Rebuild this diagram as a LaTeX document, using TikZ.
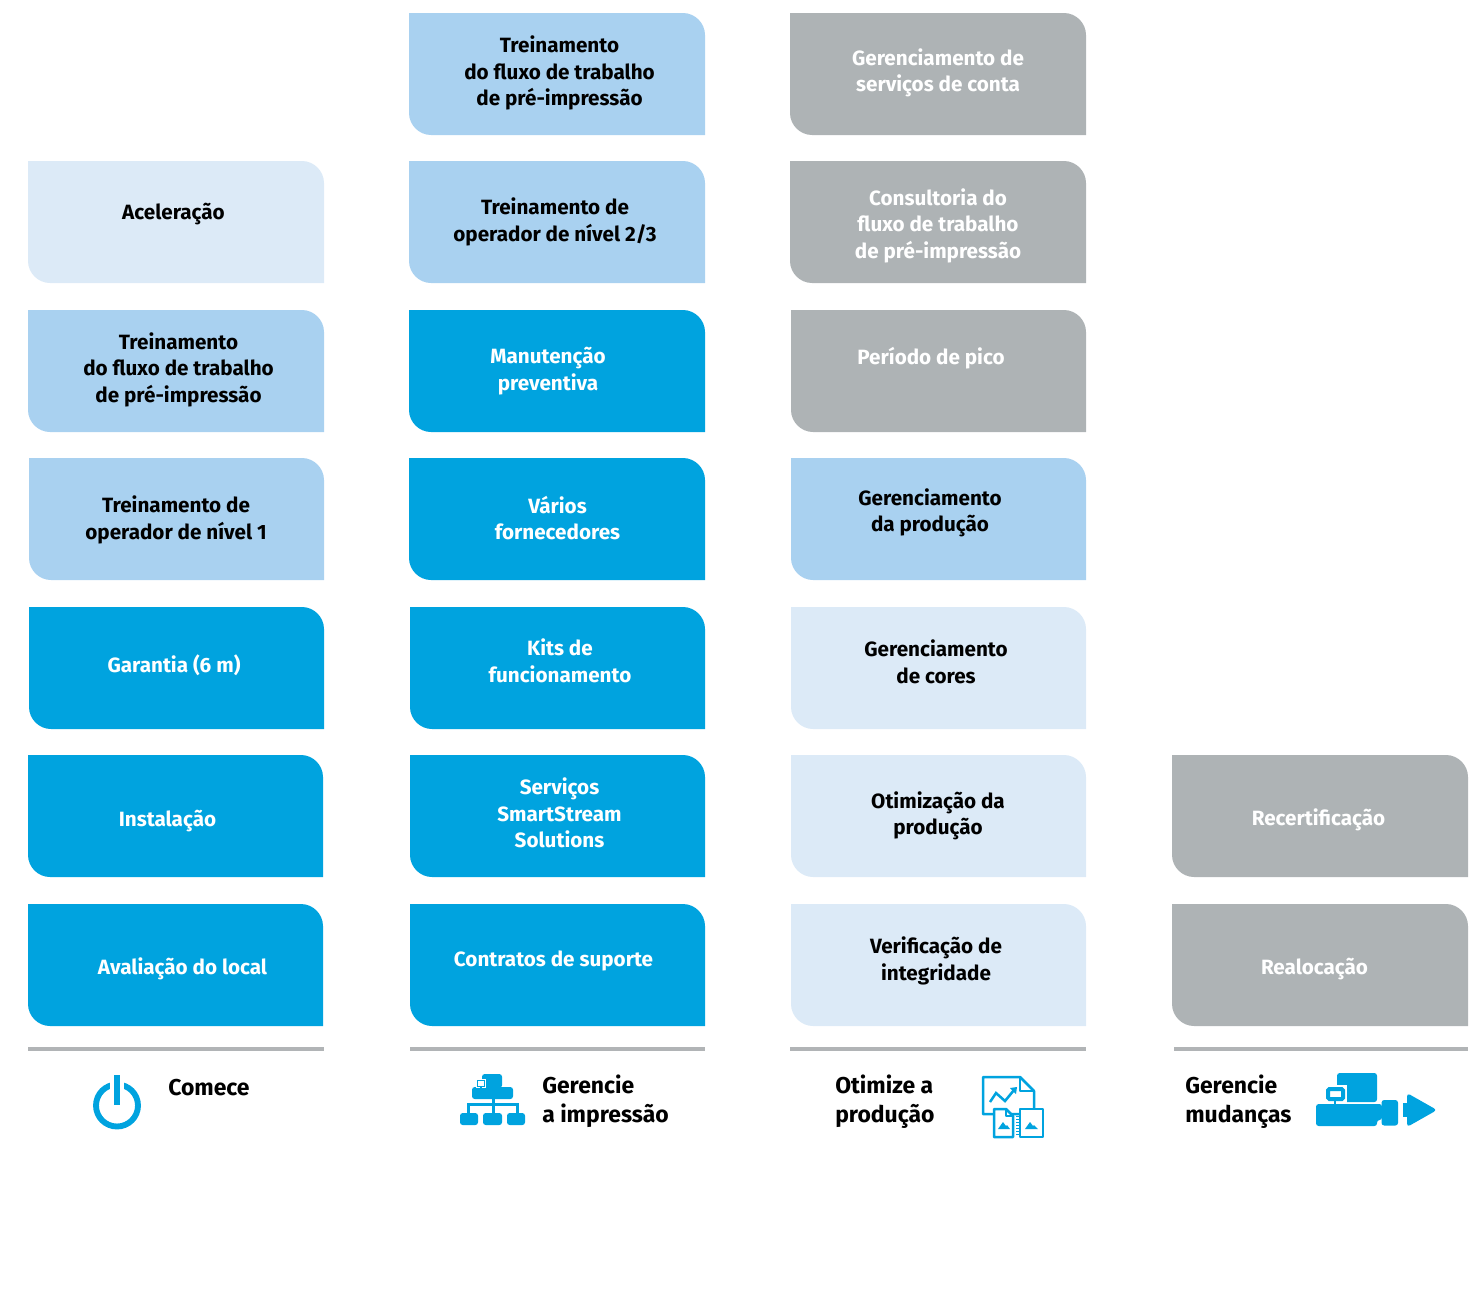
\documentclass[tikz,border=0pt]{standalone}
\usepackage{fontspec}
\setmainfont{Fira Sans}[BoldFont={Fira Sans Bold}]
\definecolor{hpblue}{HTML}{00A3DF}
\definecolor{hplight}{HTML}{A9D1F0}
\definecolor{hppale}{HTML}{DCEAF7}
\definecolor{hpgray}{HTML}{AEB3B5}
\definecolor{hprule}{HTML}{B1B4B6}
\tikzset{
  x=0.75pt,y=-0.75pt,
  label/.style={align=center,inner sep=0pt,font=\bfseries\fontsize{15.5}{19.9}\selectfont},
  flabel/.style={align=left,anchor=west,inner sep=0pt,font=\bfseries\fontsize{17.2}{21.8}\selectfont,text=black},
  rulel/.style={draw=hprule,line width=2.4pt},
  ico/.style={fill=hpblue,draw=none,rounded corners=2pt},
  icol/.style={draw=hpblue,line width=1.9pt,line join=round,fill=white},
}
% name, x0,y0,x1,y1, fill, text colour, tx, ty, text
\newcommand{\hpbox}[9]{%
  \fill[#6] (#2,#3) -- (#4-22,#3) .. controls (#4-10,#3) and (#4,#3+10) .. (#4,#3+22)
     -- (#4,#5) -- (#2+22,#5) .. controls (#2+10,#5) and (#2,#5-10) .. (#2,#5-22) -- cycle;
  \node[label,text=#7] (#1) at (#8,#9) }
\begin{document}
\begin{tikzpicture}
\useasboundingbox (0,0) rectangle (1483,1311);
% column 1
\hpbox{a2}{28}{161}{324}{283}{hppale}{black}{173.5}{214}{Aceleração};
\hpbox{a3}{28}{310}{324}{432}{hplight}{black}{178.5}{369.5}{Treinamento\\do fluxo de trabalho\\de pré-impressão};
\hpbox{a4}{29}{458}{324}{580}{hplight}{black}{176}{520}{Treinamento de\\operador de nível 1};
\hpbox{a5}{29}{607}{324}{729}{hpblue}{white}{174}{665.5}{Garantia (6 m)};
\hpbox{a6}{28}{755}{323}{877}{hpblue}{white}{167.5}{821}{Instalação};
\hpbox{a7}{28}{904}{323}{1026}{hpblue}{white}{182.5}{969}{Avaliação do local};
% column 2
\hpbox{b1}{409}{13}{705}{135}{hplight}{black}{559.5}{73}{Treinamento\\do fluxo de trabalho\\de pré-impressão};
\hpbox{b2}{409}{161}{705}{283}{hplight}{black}{555}{222}{Treinamento de\\operador de nível 2/3};
\hpbox{b3}{409}{310}{705}{432}{hpblue}{white}{548}{371}{Manutenção\\preventiva};
\hpbox{b4}{409}{458}{705}{580}{hpblue}{white}{557.5}{518}{Vários\\fornecedores};
\hpbox{b5}{410}{607}{705}{729}{hpblue}{white}{560}{661}{Kits de\\funcionamento};
\hpbox{b6}{410}{755}{705}{877}{hpblue}{white}{559.5}{813}{Serviços\\SmartStream\\Solutions};
\hpbox{b7}{410}{904}{705}{1026}{hpblue}{white}{553.5}{961}{Contratos de suporte};
% column 3
\hpbox{c1}{790}{13}{1086}{135}{hpgray}{white}{938}{73}{Gerenciamento de\\serviços de conta};
\hpbox{c2}{790}{161}{1086}{283}{hpgray}{white}{938}{225.5}{Consultoria do\\fluxo de trabalho\\de pré-impressão};
\hpbox{c3}{791}{310}{1086}{432}{hpgray}{white}{931}{358}{Período de pico};
\hpbox{c4}{791}{458}{1086}{580}{hplight}{black}{930}{513}{Gerenciamento\\da produção};
\hpbox{c5}{791}{607}{1086}{729}{hppale}{black}{936}{662}{Gerenciamento\\de cores};
\hpbox{c6}{791}{755}{1086}{877}{hppale}{black}{938}{816}{Otimização da\\produção};
\hpbox{c7}{791}{904}{1086}{1026}{hppale}{black}{936}{961}{Verificação de\\integridade};
% column 4
\hpbox{d6}{1172}{755}{1468}{877}{hpgray}{white}{1318.5}{820}{Recertificação};
\hpbox{d7}{1172}{904}{1468}{1026}{hpgray}{white}{1314.5}{969}{Realocação};
% rules
\draw[rulel] (28,1049) -- (324,1049);
\draw[rulel] (410,1049) -- (705,1049);
\draw[rulel] (790,1049) -- (1086,1049);
\draw[rulel] (1174,1049) -- (1468,1049);
% footer labels
\node[flabel] (f1) at (168,1088) {Comece};
\node[flabel] (f2) at (542,1101) {Gerencie\\a impressão};
\node[flabel] (f3) at (835,1101.5) {Otimize a\\produção};
\node[flabel] (f4) at (1185,1102) {Gerencie\\mudanças};
% power icon
\draw[hpblue,line width=4.4pt] (117,1105.5) circle [radius=21];
\fill[white] (110,1078) rectangle (124,1092);
\fill[hpblue] (114,1075) rectangle (120,1105);
% network icon
\fill[ico] (482,1074) rectangle (502,1088);
\fill[ico] (472,1087) rectangle (513,1099);
\fill[white] (476,1079) rectangle (486,1088);
\draw[hpblue,line width=1.2pt,fill=white] (477.5,1080.5) rectangle (484.5,1086.5);
\fill[hpblue] (480.3,1086) rectangle (481.7,1088);
\fill[hpblue] (491.5,1099) rectangle (494.5,1104);
\fill[hpblue] (467,1103) rectangle (519,1106);
\fill[hpblue] (467,1104) rectangle (470,1113);
\fill[hpblue] (491.5,1104) rectangle (494.5,1113);
\fill[hpblue] (516,1104) rectangle (519,1113);
\fill[ico] (460,1113) rectangle (478,1125);
\fill[ico] (483,1113) rectangle (502,1125);
\fill[ico] (507,1113) rectangle (525,1125);
% document icon
\draw[icol] (983,1077) -- (1020,1077) -- (1034,1091) -- (1034,1114) -- (983,1114) -- cycle;
\draw[hpblue,line width=1.6pt,line join=round] (1020,1077) -- (1020,1091) -- (1034,1091);
\draw[hpblue,line width=1.9pt] (990,1102) -- (996,1093) -- (1005,1101) -- (1014,1090);
\fill[hpblue] (1010,1088) -- (1017,1087) -- (1016,1094) -- cycle;
\draw[icol] (994,1109) -- (1006,1109) -- (1013,1116) -- (1013,1137) -- (994,1137) -- cycle;
\draw[hpblue,line width=1.2pt,line join=round] (1006,1109) -- (1006,1116) -- (1013,1116);
\fill[hpblue] (998,1129) -- (1003,1122) -- (1006,1126) -- (1007,1125) -- (1010,1129) -- cycle;
\draw[icol] (1020,1109) rectangle (1043,1137);
\fill[hpblue] (1025,1129) -- (1030,1122) -- (1033,1126) -- (1034,1125) -- (1038,1129) -- cycle;
\draw[hpblue,line width=0.6pt] (1016,1113) -- (1021,1113) (1016,1116) -- (1021,1116) (1016,1119) -- (1021,1119) (1016,1122) -- (1021,1122) (1016,1125) -- (1021,1125) (1016,1128) -- (1021,1128) (1016,1131) -- (1021,1131) (1016,1134) -- (1021,1134);
% machine icon
\fill[ico] (1337,1073) rectangle (1377,1102);
\fill[white] (1324,1085) rectangle (1347,1103);
\fill[ico] (1316,1104) -- (1382,1104) -- (1382,1120) -- (1377,1120) -- (1377,1126) -- (1316,1126) -- cycle;
\fill[ico] (1381.5,1100) rectangle (1398,1125.5);
\draw[hpblue,line width=3pt,fill=white,rounded corners=1pt] (1328,1089) rectangle (1343,1099);
\fill[hpblue] (1333.5,1100) rectangle (1336,1105);
\fill[hpblue] (1403,1103) rectangle (1408,1117);
\fill[hpblue,rounded corners=2.5pt] (1407,1093) -- (1437,1110) -- (1407,1127) -- cycle;
\end{tikzpicture}
\end{document}
